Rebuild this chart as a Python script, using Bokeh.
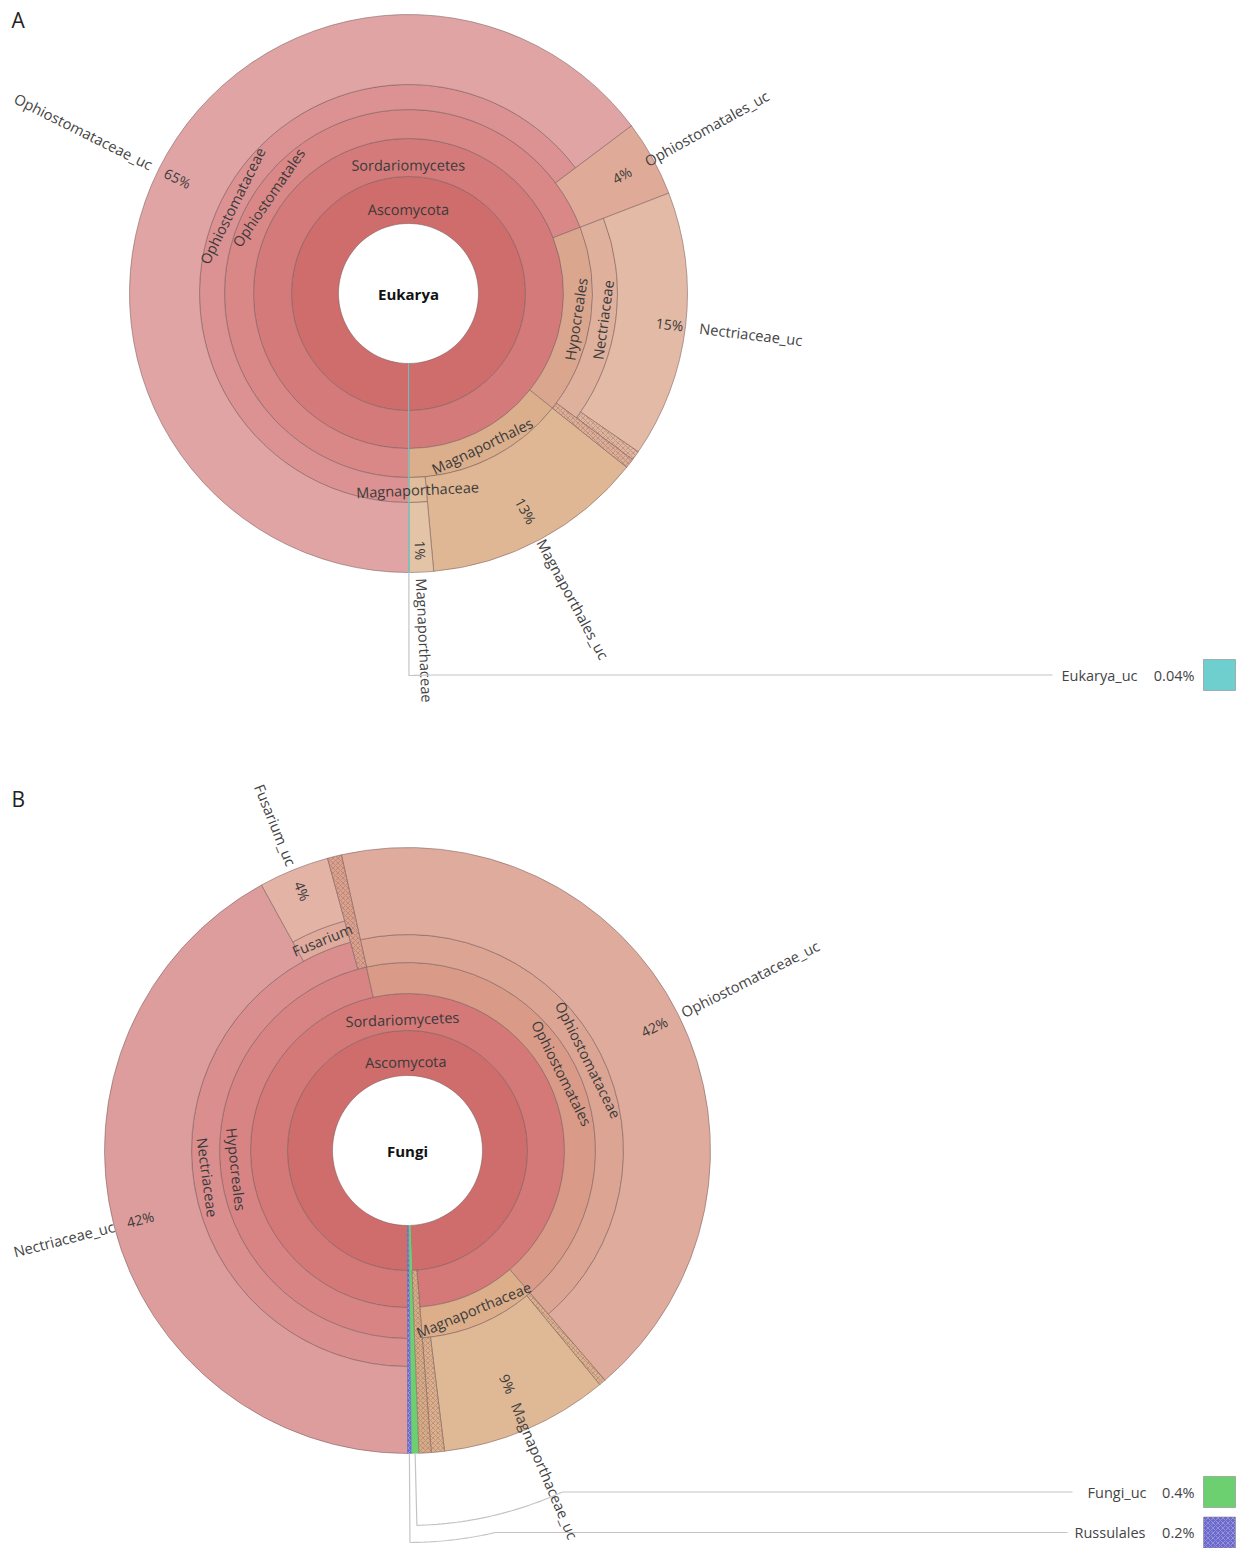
import math
from bokeh.plotting import figure
from bokeh.models import Range1d, ColumnDataSource
from bokeh.embed import file_html
from bokeh.resources import INLINE
from bokeh.core.properties import value

W, H = 1239, 1548

# ---------------- data (percent of reads) ----------------
A_root = "Eukarya"
A_paths = [
    "Ascomycota/Sordariomycetes/Ophiostomatales/Ophiostomataceae/Ophiostomataceae_uc",
    "Ascomycota/Sordariomycetes/Ophiostomatales/Ophiostomatales_uc",
    "Ascomycota/Sordariomycetes/Hypocreales/Nectriaceae/Nectriaceae_uc",
    "Ascomycota/Sordariomycetes/Hypocreales/Nectriaceae/~other",
    "Ascomycota/Sordariomycetes/Hypocreales/~other",
    "Ascomycota/Sordariomycetes/Magnaporthales/Magnaporthales_uc",
    "Ascomycota/Sordariomycetes/Magnaporthales/Magnaporthaceae/Magnaporthaceae",
    "Eukarya_uc",
]
A_values = [64.7, 4.4, 15.45, 0.55, 0.55, 12.85, 1.4, 0.04]
A_key = ["Eukarya_uc"]

B_root = "Fungi"
B_paths = [
    "Ascomycota/Sordariomycetes/Hypocreales/Nectriaceae/Nectriaceae_uc",
    "Ascomycota/Sordariomycetes/Hypocreales/Nectriaceae/Fusarium/Fusarium_uc",
    "Ascomycota/Sordariomycetes/Hypocreales/~other",
    "Ascomycota/Sordariomycetes/Ophiostomatales/Ophiostomataceae/Ophiostomataceae_uc",
    "Ascomycota/Sordariomycetes/Magnaporthaceae/~other1",
    "Ascomycota/Sordariomycetes/Magnaporthaceae/Magnaporthaceae_uc",
    "Ascomycota/Sordariomycetes/Magnaporthaceae/~other2",
    "Ascomycota/~other",
    "Fungi_uc",
    "Russulales",
]
B_values = [42.0, 3.75, 0.75, 42.2, 0.35, 9.0, 0.7, 0.65, 0.4, 0.2]
B_key = ["Fungi_uc", "Russulales"]
B_collapsed = ["Russulales"]

# ---------------- styles ----------------
SA = "Ascomycota/Sordariomycetes"
A_colors = {
    "Ascomycota": "#cf6c6c",
    SA: "#d47a7a",
    SA + "/Ophiostomatales": "#d98787",
    SA + "/Ophiostomatales/Ophiostomataceae": "#dc9292",
    SA + "/Ophiostomatales/Ophiostomataceae/Ophiostomataceae_uc": "#e1a4a4",
    SA + "/Ophiostomatales/Ophiostomatales_uc": "#dfab98",
    SA + "/Hypocreales": "#dba68e",
    SA + "/Hypocreales/Nectriaceae": "#dfb09b",
    SA + "/Hypocreales/Nectriaceae/Nectriaceae_uc": "#e3baa6",
    SA + "/Hypocreales/Nectriaceae/~other": "#e0b59f",
    SA + "/Hypocreales/~other": "#ddad97",
    SA + "/Magnaporthales": "#dcaf8c",
    SA + "/Magnaporthales/Magnaporthales_uc": "#dfb794",
    SA + "/Magnaporthales/Magnaporthaceae": "#e0bd9b",
    SA + "/Magnaporthales/Magnaporthaceae/Magnaporthaceae": "#e3c4a6",
    "Eukarya_uc": "#6fcfcf",
}
B_colors = {
    "Ascomycota": "#cf6c6c",
    SA: "#d47878",
    SA + "/Hypocreales": "#d88484",
    SA + "/Hypocreales/Nectriaceae": "#db8e8e",
    SA + "/Hypocreales/Nectriaceae/Nectriaceae_uc": "#de9d9d",
    SA + "/Hypocreales/Nectriaceae/Fusarium": "#e0ab9d",
    SA + "/Hypocreales/Nectriaceae/Fusarium/Fusarium_uc": "#e3b4a6",
    SA + "/Hypocreales/~other": "#dca08f",
    SA + "/Ophiostomatales": "#d99b88",
    SA + "/Ophiostomatales/Ophiostomataceae": "#dca492",
    SA + "/Ophiostomatales/Ophiostomataceae/Ophiostomataceae_uc": "#dfab9c",
    SA + "/Magnaporthaceae": "#dcae8a",
    SA + "/Magnaporthaceae/~other1": "#dcb08e",
    SA + "/Magnaporthaceae/Magnaporthaceae_uc": "#dfb896",
    SA + "/Magnaporthaceae/~other2": "#dcb08e",
    "Ascomycota/~other": "#d8ab88",
    "Fungi_uc": "#6ccf70",
    "Russulales": "#6b69cc",
}

# label placement (radii in px): name start offset from the rim, percent centre radius
A_name_gap = {"Ophiostomatales_uc": -8, "Nectriaceae_uc": 14, "Magnaporthales_uc": 1,
              "Magnaporthaceae": 6, "Ophiostomataceae_uc": 8}
A_pct_r = {"Ophiostomataceae_uc": 258, "Ophiostomatales_uc": 244, "Nectriaceae_uc": 263,
           "Magnaporthales_uc": 247, "Magnaporthaceae": 257}
B_name_gap = {"Ophiostomataceae_uc": 4, "Nectriaceae_uc": 0, "Fusarium_uc": 5,
              "Magnaporthaceae_uc": -28}
B_pct_r = {"Ophiostomataceae_uc": 276, "Nectriaceae_uc": 276, "Fusarium_uc": 280,
           "Magnaporthaceae_uc": 254}

OUTLINE = "#7a5c5c"
FONT = "Open Sans"
TXT = "#3a3a3a"


def layout(paths, values):
    total = float(sum(values))
    nodes, order = {}, []
    ang = 180.0
    for path, v in zip(paths, values):
        span = v / total * 360.0
        parts = path.split("/")
        for d in range(1, len(parts) + 1):
            key = "/".join(parts[:d])
            if key not in nodes:
                nodes[key] = {"name": parts[d - 1], "depth": d, "start": ang,
                              "end": ang + span, "leaf": d == len(parts), "value": 0.0}
                order.append(key)
            nodes[key]["end"] = ang + span
            nodes[key]["value"] += v / total * 100.0
        ang += span
    return nodes, order


def pol(cx, cy, r, th):
    t = math.radians(th)
    return cx + r * math.sin(t), cy + r * math.cos(t)


def upright(a):
    while a > 90:
        a -= 180
    while a <= -90:
        a += 180
    return a


p = figure(width=W, height=H, x_range=Range1d(0, W), y_range=Range1d(0, H),
           x_axis_type=None, y_axis_type=None, toolbar_location=None,
           output_backend="svg", min_border=0)
p.grid.visible = False
p.outline_line_color = None
p.background_fill_color = "white"


def text(x, y, s, angle=0.0, align="center", size="14px", color=TXT, style="normal"):
    p.text(x=[x], y=[y], text=[s], angle=[math.radians(angle)], text_align=align,
           text_baseline="middle", text_font=value(FONT), text_font_size=size,
           text_color=color, text_font_style=style)


def draw_chart(cxp, cyp, R, root, paths, values, colors, keys, collapsed, key_layout,
               name_gap, pct_r):
    cx, cy = cxp, H - cyp
    nodes, order = layout(paths, values)
    cols = ["x", "y", "ri", "ro", "sa", "ea", "c", "lc", "hc"]
    normal = {k: [] for k in cols}
    hatch = {k: [] for k in cols}
    for k in order:
        n = nodes[k]
        d = n["depth"]
        ri = R[d - 1]
        ro = R[-1] if n["leaf"] else R[d]
        col = colors[k]
        hidden = n["name"].startswith("~")
        is_hatched = hidden or n["name"] in collapsed
        tgt = hatch if is_hatched else normal
        span = n["end"] - n["start"]
        sa = math.radians(90 - n["end"]) % (2 * math.pi)
        tgt["x"].append(cx); tgt["y"].append(cy)
        tgt["ri"].append(ri); tgt["ro"].append(ro)
        tgt["sa"].append(sa); tgt["ea"].append(sa + math.radians(span))
        tgt["c"].append(col)
        tgt["lc"].append(col if (n["value"] < 0.5 and not hidden) else OUTLINE)
        tgt["hc"].append("#ffffff" if n["name"] in collapsed else "#7a5a45")
    p.annular_wedge(x="x", y="y", inner_radius="ri", outer_radius="ro",
                    start_angle="sa", end_angle="ea", fill_color="c", line_color="lc",
                    line_alpha=0.55, line_width=1, source=ColumnDataSource(normal))
    p.annular_wedge(x="x", y="y", inner_radius="ri", outer_radius="ro",
                    start_angle="sa", end_angle="ea", fill_color="c", line_color="lc",
                    line_alpha=0.55, line_width=1, hatch_pattern="x", hatch_color="hc",
                    hatch_alpha=0.45, hatch_scale=5, hatch_weight=0.7,
                    source=ColumnDataSource(hatch))

    # labels
    Rout = R[-1]
    for k in order:
        n = nodes[k]
        name = n["name"]
        if name.startswith("~") or name in keys:
            continue
        d = n["depth"]
        m = ((n["start"] + n["end"]) / 2.0) % 360
        if not n["leaf"]:
            span = n["end"] - n["start"]
            if span > 300:
                r = R[d - 1] + 0.3 * (R[d] - R[d - 1])
            else:
                r = (R[d - 1] + R[d]) / 2.0
            t = math.radians(m)
            ang = upright(math.degrees(math.atan2(math.sin(t), -math.cos(t))))
            x, y = pol(cx, cy, r, m)
            text(x, y, name, ang, "center", "14.5px")
        else:
            t = math.radians(m)
            ua = math.degrees(math.atan2(math.cos(t), math.sin(t)))
            right = math.sin(t) >= 0
            ang = ua if right else ua + 180
            xn, yn = pol(cx, cy, Rout + name_gap.get(name, 6), m)
            text(xn, yn, name, ang, "left" if right else "right", "14.7px", "#444444")
            xp, yp = pol(cx, cy, pct_r.get(name, Rout - 24), m)
            text(xp, yp, "%d%%" % round(n["value"]), ang, "center", "14px")

    text(cx, cy, root, 0, "center", "15px", "#111111", "bold")

    # key
    for name in keys:
        n = nodes[name]
        ky, r_arc, lend, nright = key_layout[name]
        m = ((n["start"] + n["end"]) / 2.0) % 360
        xs, ys = [], []
        x0, y0 = pol(cx, cy, Rout, m)
        xs.append(x0); ys.append(y0)
        cosv = min(1.0, (ky - cyp) / r_arc)
        te = 180 - math.degrees(math.acos(cosv))
        for i in range(31):
            th = m + (te - m) * i / 30.0
            x1, y1 = pol(cx, cy, r_arc, th)
            xs.append(x1); ys.append(y1)
        xs.append(lend); ys.append(H - ky)
        p.line(xs, ys, line_color="#c4c4c4", line_width=1.2)
        text(nright, H - ky, name, 0, "right", "14.5px", "#444444")
        text(1194, H - ky, ("%.2g" % n["value"]) + "%", 0, "right", "14.5px", "#444444")
        col = colors[name]
        if name in collapsed:
            p.rect(x=[1219], y=[H - ky], width=32, height=31, fill_color=col,
                   line_color="#8a8a8a", line_alpha=0.6, hatch_pattern="x",
                   hatch_color="#ffffff", hatch_alpha=0.4, hatch_scale=5, hatch_weight=0.7)
        else:
            p.rect(x=[1219], y=[H - ky], width=32, height=31, fill_color=col,
                   line_color="#8a8a8a", line_alpha=0.6)


draw_chart(408, 293, [70, 117, 155, 184, 209, 279], A_root, A_paths, A_values,
           A_colors, A_key, [], {"Eukarya_uc": (674.5, 382, 1052, 1137)},
           A_name_gap, A_pct_r)
draw_chart(407, 1150, [75, 120, 157, 188, 216, 238, 303], B_root, B_paths, B_values,
           B_colors, B_key, B_collapsed,
           {"Fungi_uc": (1491.5, 375, 1072, 1146), "Russulales": (1532, 392, 1067, 1145)},
           B_name_gap, B_pct_r)

text(11, H - 19, "A", 0, "left", "21px", "#222222")
text(11, H - 798, "B", 0, "left", "21px", "#222222")

open("out.html", "w").write(file_html(p, INLINE))
